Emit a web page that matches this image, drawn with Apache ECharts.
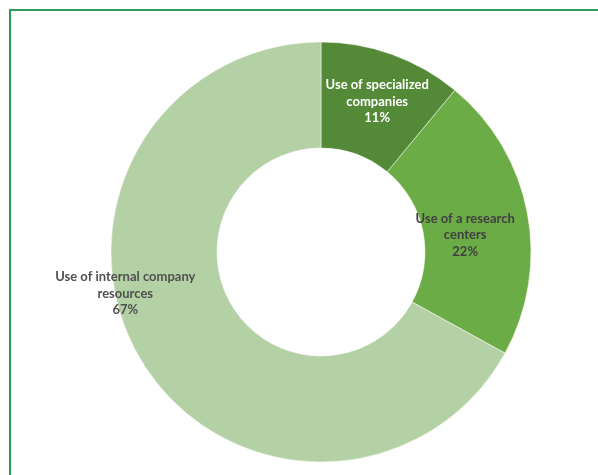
<!DOCTYPE html>
<html>
<head>
<meta charset="utf-8">
<script src="https://cdn.jsdelivr.net/npm/echarts@6/dist/echarts.min.js"></script>
<style>
html,body{margin:0;padding:0;background:#fff;}
#c{width:598px;height:475px;}
</style>
</head>
<body>
<div id="c"></div>
<script>
const categories = ["Use of specialized\ncompanies", "Use of a research\ncenters", "Use of internal company\nresources"];
const values = [11, 22, 67];
const colors = ["#548a37", "#6cac46", "#b3d1a4"];
const labelColors = ["#ffffff", "#404040", "#505050"];
const labelOffsets = [[2, 0], [-13, 13], [-58, -40]];

const chart = echarts.init(document.getElementById('c'), null, {renderer: 'canvas'});
chart.setOption({
  backgroundColor: '#ffffff',
  animation: false,
  graphic: [{
    type: 'rect',
    shape: {x: 10, y: 10, width: 700, height: 600},
    style: {fill: 'none', stroke: '#2a9d57', lineWidth: 2}
  }],
  series: [{
    type: 'pie',
    center: [321, 252],
    radius: [104, 210],
    startAngle: 90,
    clockwise: true,
    itemStyle: {borderColor: '#ffffff', borderWidth: 0.5},
    label: {
      show: true,
      position: 'inside',
      fontFamily: 'Lato, "Open Sans", sans-serif',
      fontWeight: 'bold',
      fontSize: 13,
      lineHeight: 16.5,
      align: 'center',
      formatter: p => p.name + '\n' + p.value + '%'
    },
    labelLine: {show: false},
    emphasis: {disabled: true},
    data: categories.map((c, i) => ({
      name: c,
      value: values[i],
      itemStyle: {color: colors[i]},
      label: {color: labelColors[i], offset: labelOffsets[i]}
    }))
  }]
});
</script>
</body>
</html>
